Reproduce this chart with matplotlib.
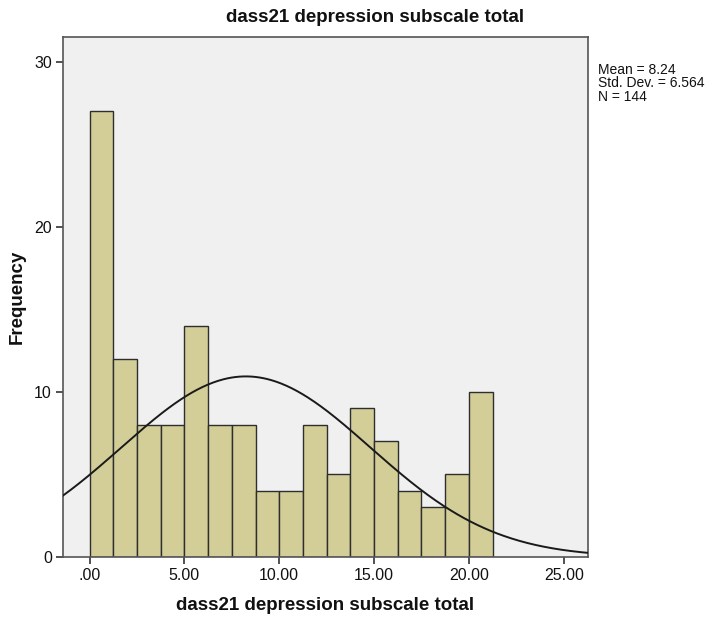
import numpy as np
import matplotlib
matplotlib.use("Agg")
import matplotlib.pyplot as plt
from matplotlib import font_manager

# Histogram of the DASS-21 depression subscale total
counts = [27, 12, 8, 8, 14, 8, 8, 4, 4, 8, 5, 9, 7, 4, 3, 5, 10]
bin_start = 0.0
bin_width = 1.25
mean = 8.24
std_dev = 6.564
n_total = 144
x_ticks = [0, 5, 10, 15, 20, 25]
x_tick_labels = [".00", "5.00", "10.00", "15.00", "20.00", "25.00"]
y_ticks = [0, 10, 20, 30]

title = "dass21 depression subscale total"
x_label = "dass21 depression subscale total"
y_label = "Frequency"

installed = {f.name for f in font_manager.fontManager.ttflist}
narrow = "Liberation Sans Narrow" if "Liberation Sans Narrow" in installed else "Liberation Sans"
plt.rcParams["font.family"] = ["Liberation Sans", "DejaVu Sans"]

fig = plt.figure(figsize=(7.06, 6.20), dpi=100)
ax = fig.add_axes([63 / 706, 1 - 557 / 620, (588 - 63) / 706, (557 - 37) / 620])
ax.set_facecolor("#F0F0F0")

edges = bin_start + bin_width * np.arange(len(counts) + 1)
ax.bar(edges[:-1], counts, width=bin_width, align="edge",
       color="#D3CE98", edgecolor="#2E2E2E", linewidth=1.0, zorder=2)

# Normal curve scaled to the histogram
x_min, x_max = -1.40, 26.28
xs = np.linspace(x_min, x_max, 400)
ys = n_total * bin_width / (std_dev * np.sqrt(2 * np.pi)) * np.exp(-0.5 * ((xs - mean) / std_dev) ** 2)
ax.plot(xs, ys, color="#1A1A1A", linewidth=1.4, zorder=3)

ax.set_xlim(x_min, x_max)
ax.set_ylim(0, 31.5)
ax.set_xticks(x_ticks)
ax.set_xticklabels(x_tick_labels)
ax.set_yticks(y_ticks)

for side in ("left", "right", "top", "bottom"):
    ax.spines[side].set_color("#555555")
    ax.spines[side].set_linewidth(1.2)
ax.tick_params(axis="both", direction="out", length=5, width=1.2,
               color="#333333", labelsize=11.5, labelcolor="#111111", pad=3)
for lab in ax.get_xticklabels() + ax.get_yticklabels():
    lab.set_family([narrow, "DejaVu Sans"])

fig.text(375 / 706, 1 - 18 / 620, title, ha="center", va="center",
         fontsize=13.5, fontweight="bold", color="#111111")
fig.text(325 / 706, 1 - 605 / 620, x_label, ha="center", va="center",
         fontsize=13.5, fontweight="bold", color="#111111")
fig.text(17 / 706, 1 - 297 / 620, y_label, ha="center", va="center",
         rotation=90, fontsize=13.5, fontweight="bold", color="#111111")

fig.text(598 / 706, 1 - 63 / 620,
         f"Mean = {mean:.2f}\nStd. Dev. = {std_dev:.3f}\nN = {n_total}",
         ha="left", va="top", fontsize=10, color="#111111", linespacing=0.95,
         family=[narrow, "DejaVu Sans"])

fig.savefig("out.png", dpi=100)
